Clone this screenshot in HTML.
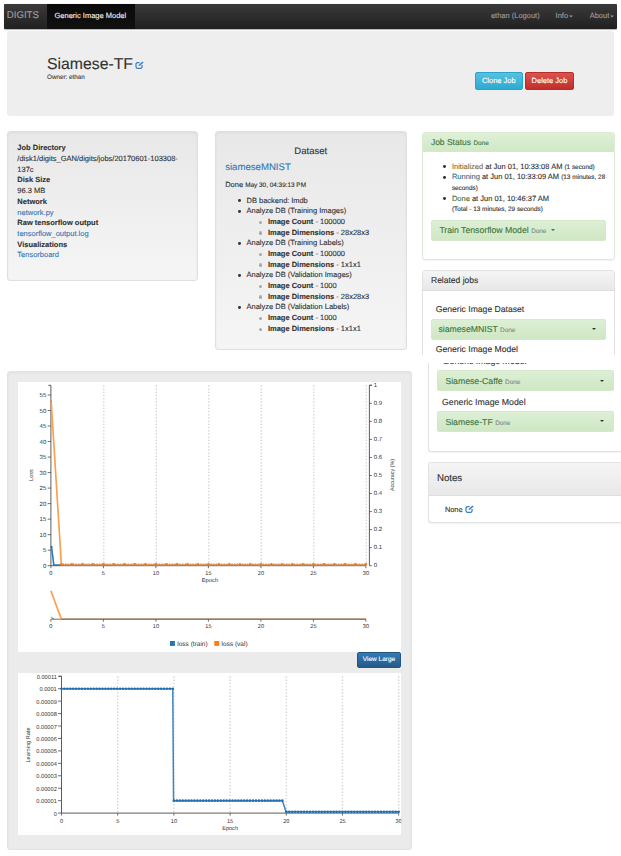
<!DOCTYPE html>
<html><head><meta charset="utf-8">
<style>
*{box-sizing:border-box;margin:0;padding:0}
html,body{width:621px;height:856px;overflow:hidden;background:#fff}
body{position:relative;text-rendering:geometricPrecision;-webkit-text-stroke:0.12px currentColor;font-family:"Liberation Sans",sans-serif;color:#333;font-size:7.5px;line-height:10.7px}
.abs{position:absolute}
a{color:#337ab7;text-decoration:none}
b{font-weight:bold}
/* navbar */
#nav{left:4px;top:4px;width:613px;height:25.0px;background:linear-gradient(#3a3a3a,#202020);border-radius:1px;box-shadow:0 0.5px 1px rgba(0,0,0,.3)}
#nav .t{position:absolute;white-space:nowrap;color:#9d9d9d;font-size:7.5px;line-height:10px}
#brand{left:2.7px;top:5.6px;font-size:9.7px !important;line-height:12px !important}
#active{position:absolute;left:42.5px;top:0;width:88px;height:25px;background:linear-gradient(#0a0a0a,#111)}
.caret{display:inline-block;width:0;height:0;border-left:1.6px solid transparent;border-right:1.6px solid transparent;border-top:1.9px solid;vertical-align:middle;margin-left:0.6px;margin-top:-1px}
/* jumbotron */
#jumbo{left:7px;top:31.2px;width:607.4px;height:84.6px;background:#eee;border-radius:3px}
/* wells */
.well{position:absolute;background:linear-gradient(#e8e8e8,#f5f5f5);border:1px solid #e0e0e0;border-radius:3px;box-shadow:inset 0 1px 3px rgba(0,0,0,.05)}
.panel{position:absolute;background:#fff;border:1px solid #e2e2e2;border-radius:3px;box-shadow:0 1px 1px rgba(0,0,0,.05)}
.ph{position:absolute;left:0;top:0;right:0;border-radius:2px 2px 0 0;background:linear-gradient(#f5f5f5,#e8e8e8);border-bottom:1px solid #ddd}
.green{position:absolute;background:linear-gradient(#ddefd5,#cfe7c4);border:1px solid #d3e9ca;border-radius:2px;color:#3c763d;font-size:8.7px;white-space:nowrap}
.green .caret{border-left:2.1px solid transparent;border-right:2.1px solid transparent;border-top:2.3px solid}
.green small{font-size:6.4px;line-height:0;color:#7d8f7d}
.btn{position:absolute;border-radius:2px;color:#fff;font-size:7.5px;text-align:center;white-space:nowrap}
ul{list-style:none}
.bul{position:relative}
.bul:before{content:"";position:absolute;left:-8.5px;top:3.7px;width:2.9px;height:2.9px;background:#333;border-radius:50%}
.sub{position:relative}
.sub:before{content:"";position:absolute;left:-8.6px;top:3.7px;width:3.2px;height:3.2px;background:#a8a8a8;border-radius:50%}
.nw{white-space:nowrap}
</style></head><body>

<!-- NAVBAR -->
<div id="nav" class="abs">
  <div id="active"></div>
  <div id="brand" class="t">DIGITS</div>
  <div class="t" style="left:50.5px;top:7.0px;color:#eee">Generic Image Model</div>
  <div class="t" style="left:486.9px;top:7.1px">ethan (Logout)</div>
  <div class="t" style="left:551.6px;top:7.1px">Info<svg style="display:inline-block;vertical-align:middle;margin-left:0.5px;margin-top:0px" width="4" height="3" viewBox="0 0 4 3"><path d="M0.2 0.4H3.8L2 2.6Z" fill="#9d9d9d"/></svg></div>
  <div class="t" style="left:585.7px;top:7.1px">About<svg style="display:inline-block;vertical-align:middle;margin-left:0.5px;margin-top:0px" width="4" height="3" viewBox="0 0 4 3"><path d="M0.2 0.4H3.8L2 2.6Z" fill="#9d9d9d"/></svg></div>
</div>

<!-- JUMBOTRON -->
<div id="jumbo" class="abs">
  <div class="abs nw" style="left:40px;top:24.8px;font-size:15.8px;line-height:18px">Siamese-TF</div>
  <svg class="abs" style="left:127.6px;top:29.5px" width="9" height="8" viewBox="0 0 9 8">
    <path d="M4.6 1.5H2.8Q1 1.5 1 3.3V5.6Q1 7.4 2.8 7.4H5.3Q7.1 7.4 7.1 5.6V4.1" fill="none" stroke="#3a80c0" stroke-width="1.25"/>
    <path d="M3.5 5.1L3.9 3.8L7.5 0.5L8.6 1.5L5 4.8Z" fill="#3a80c0"/>
  </svg>
  <div class="abs nw" style="left:40px;top:42.5px;font-size:6.3px;line-height:8px;color:#444">Owner: ethan</div>
  <div class="btn" style="left:468px;top:40.6px;width:47.6px;height:18.4px;line-height:16.6px;background:linear-gradient(#5bc0de,#2aabd2);border:1px solid #28a4c9">Clone Job</div>
  <div class="btn" style="left:517.9px;top:40.6px;width:49.3px;height:18.4px;line-height:16.6px;background:linear-gradient(#d9534f,#c12e2a);border:1px solid #b92c28">Delete Job</div>
</div>

<!-- WELL 1 -->
<div class="well" style="left:7px;top:131.3px;width:190.8px;height:150.2px">
  <div class="abs" style="left:9.3px;top:11.1px;width:178px;line-height:10.68px">
    <b>Job Directory</b><br>
    <span class="nw">/disk1/digits_GAN/digits/jobs/20170601-103308-</span><br>
    137c<br>
    <b>Disk Size</b><br>
    96.3 MB<br>
    <b>Network</b><br>
    <a>network.py</a><br>
    <b>Raw tensorflow output</b><br>
    <a>tensorflow_output.log</a><br>
    <b>Visualizations</b><br>
    <a>Tensorboard</a>
  </div>
</div>

<!-- WELL 2 -->
<div class="well" style="left:214.6px;top:131.3px;width:192.3px;height:218.3px">
  <div class="abs nw" style="left:0;right:0;top:14.1px;text-align:center;font-size:9.5px;line-height:12px">Dataset</div>
  <div class="abs nw" style="left:9.6px;top:30.1px;font-size:9.6px;line-height:12px"><a>siameseMNIST</a></div>
  <div class="abs nw" style="left:9.6px;top:47.8px;line-height:10.7px">Done <span style="font-size:6.4px;line-height:0">May 30, 04:39:13 PM</span></div>
  <ul class="abs nw" style="left:30.9px;top:63.3px;line-height:10.68px">
    <li class="bul">DB backend: lmdb</li>
    <li class="bul">Analyze DB (Training Images)</li>
    <li class="sub" style="margin-left:21.4px"><b>Image Count</b> - 100000</li>
    <li class="sub" style="margin-left:21.4px"><b>Image Dimensions</b> - 28x28x3</li>
    <li class="bul">Analyze DB (Training Labels)</li>
    <li class="sub" style="margin-left:21.4px"><b>Image Count</b> - 100000</li>
    <li class="sub" style="margin-left:21.4px"><b>Image Dimensions</b> - 1x1x1</li>
    <li class="bul">Analyze DB (Validation Images)</li>
    <li class="sub" style="margin-left:21.4px"><b>Image Count</b> - 1000</li>
    <li class="sub" style="margin-left:21.4px"><b>Image Dimensions</b> - 28x28x3</li>
    <li class="bul">Analyze DB (Validation Labels)</li>
    <li class="sub" style="margin-left:21.4px"><b>Image Count</b> - 1000</li>
    <li class="sub" style="margin-left:21.4px"><b>Image Dimensions</b> - 1x1x1</li>
  </ul>
</div>

<!-- JOB STATUS PANEL -->
<div class="panel" style="left:422.2px;top:131.6px;width:192.6px;height:128.1px;border-color:#dcecd2">
  <div class="ph" style="height:19.6px;background:linear-gradient(#dff0d8,#d0e9c6);border-bottom-color:#d6e9c6"></div>
  <div class="abs nw" style="left:7.7px;top:4.8px;font-size:8.5px;line-height:10px;color:#3c763d">Job Status <span style="font-size:6.4px;line-height:0">Done</span></div>
  <ul class="abs nw" style="left:28.7px;top:29.0px;line-height:10.7px;font-size:7.5px">
    <li class="bul"><span style="color:#8a6d3b">Initialized</span> at Jun 01, 10:33:08 AM <span style="font-size:6.4px;line-height:0">(1 second)</span></li>
    <li class="bul"><span style="color:#31708f">Running</span> at Jun 01, 10:33:09 AM <span style="font-size:6.4px;line-height:0">(13 minutes, 28<br>seconds)</span></li>
    <li class="bul"><span style="color:#3c763d">Done</span> at Jun 01, 10:46:37 AM<br><span style="font-size:6.4px;line-height:0">(Total - 13 minutes, 29 seconds)</span></li>
  </ul>
  <div class="green" style="left:8px;top:87.6px;width:175.2px;height:20.5px;line-height:19px;padding-left:7.2px">Train Tensorflow Model <small>Done</small><span class="caret" style="color:#3c763d;margin-left:4.2px"></span></div>
</div>

<!-- RELATED JOBS piece 1 -->
<div class="abs" style="left:420px;top:265px;width:201px;height:89.6px;overflow:hidden">
  <div class="panel" style="left:2.0px;top:4.9px;width:192.6px;height:200px">
    <div class="ph" style="height:20.6px"></div>
    <div class="abs nw" style="left:8.0px;top:4.6px;font-size:8.5px;line-height:10px">Related jobs</div>
    <div class="abs nw" style="left:12.8px;top:32px;font-size:8.6px;line-height:12px">Generic Image Dataset</div>
    <div class="green" style="left:7.8px;top:47.8px;width:175px;height:20.9px;line-height:19.5px;padding-left:6.6px">siameseMNIST <small>Done</small><span class="caret" style="position:absolute;left:160px;top:9px;color:#333"></span></div>
    <div class="abs nw" style="left:12.8px;top:72.4px;font-size:8.6px;line-height:12px">Generic Image Model</div>
  </div>
</div>

<!-- OVERLAY piece 2 -->
<div class="abs" style="left:421px;top:362.5px;width:200px;height:300px;overflow:hidden">
  <div class="panel" style="left:7px;top:-60px;width:194px;height:149.5px;border-right:none">
    <div class="abs nw" style="left:13.8px;top:51.3px;font-size:8.75px;line-height:12px">Generic Image Model</div>
    <div class="green" style="left:7.8px;top:66.5px;width:177px;height:21.1px;line-height:21.2px;padding-left:7.6px">Siamese-Caffe <small>Done</small><span class="caret" style="position:absolute;left:161.6px;top:9.5px;color:#333"></span></div>
    <div class="abs nw" style="left:13px;top:92.6px;font-size:8.75px;line-height:12px">Generic Image Model</div>
    <div class="green" style="left:7.8px;top:107.4px;width:177px;height:21.3px;line-height:21.2px;padding-left:7.6px">Siamese-TF <small>Done</small><span class="caret" style="position:absolute;left:161.6px;top:9.5px;color:#333"></span></div>
  </div>
  <div class="panel" style="left:7px;top:99.7px;width:200px;height:60.5px;border-right:none">
    <div class="ph" style="height:33px"></div>
    <div class="abs nw" style="left:7.9px;top:9.8px;font-size:9.7px;line-height:12px">Notes</div>
    <div class="abs nw" style="left:15.9px;top:41.6px;font-size:7.4px;line-height:10px">None</div>
    <svg class="abs" style="left:36.2px;top:41.4px" width="9" height="8" viewBox="0 0 9 8">
    <path d="M4.6 1.5H2.8Q1 1.5 1 3.3V5.6Q1 7.4 2.8 7.4H5.3Q7.1 7.4 7.1 5.6V4.1" fill="none" stroke="#3a80c0" stroke-width="1.25"/>
    <path d="M3.5 5.1L3.9 3.8L7.5 0.5L8.6 1.5L5 4.8Z" fill="#3a80c0"/>
    </svg>
  </div>
</div>

<!-- GRAPH WELL -->
<div class="well" style="left:7.2px;top:371.3px;width:404.7px;height:478.7px;background:#ebebeb;border-color:#e3e3e3"></div>
<div class="abs" style="left:17.8px;top:382.2px;width:383.5px;height:269.8px;background:#fff"></div>
<div class="abs" style="left:17.8px;top:672.9px;width:383.6px;height:162.2px;background:#fff"></div>
<div class="btn" style="left:356.8px;top:651.8px;width:44.4px;height:16.3px;line-height:14.8px;font-size:6.5px;background:linear-gradient(#337ab7,#265a88);border:1px solid #245580">View Large</div>

<svg id="charts" class="abs" style="left:0;top:0;text-rendering:geometricPrecision" width="621" height="856" viewBox="0 0 621 856">
<line x1="103.80" y1="385.3" x2="103.80" y2="565.7" stroke="#d2d2d2" stroke-width="1.3" stroke-dasharray="1.4,1.8"/>
<line x1="156.30" y1="385.3" x2="156.30" y2="565.7" stroke="#d2d2d2" stroke-width="1.3" stroke-dasharray="1.4,1.8"/>
<line x1="208.80" y1="385.3" x2="208.80" y2="565.7" stroke="#d2d2d2" stroke-width="1.3" stroke-dasharray="1.4,1.8"/>
<line x1="261.30" y1="385.3" x2="261.30" y2="565.7" stroke="#d2d2d2" stroke-width="1.3" stroke-dasharray="1.4,1.8"/>
<line x1="313.80" y1="385.3" x2="313.80" y2="565.7" stroke="#d2d2d2" stroke-width="1.3" stroke-dasharray="1.4,1.8"/>
<line x1="366.30" y1="385.3" x2="366.30" y2="565.7" stroke="#d2d2d2" stroke-width="1.3" stroke-dasharray="1.4,1.8"/>
<path d="M48.4,385.3H50.9V565.7" fill="none" stroke="#4a4a4a" stroke-width="0.9"/>
<line x1="47.699999999999996" y1="565.70" x2="50.9" y2="565.70" stroke="#4a4a4a" stroke-width="0.8"/>
<text x="46.3" y="567.90" text-anchor="end" font-size="6" font-family="Liberation Sans" fill="#333">0</text>
<line x1="47.699999999999996" y1="550.18" x2="50.9" y2="550.18" stroke="#4a4a4a" stroke-width="0.8"/>
<text x="46.3" y="552.38" text-anchor="end" font-size="6" font-family="Liberation Sans" fill="#333">5</text>
<line x1="47.699999999999996" y1="534.66" x2="50.9" y2="534.66" stroke="#4a4a4a" stroke-width="0.8"/>
<text x="46.3" y="536.86" text-anchor="end" font-size="6" font-family="Liberation Sans" fill="#333">10</text>
<line x1="47.699999999999996" y1="519.14" x2="50.9" y2="519.14" stroke="#4a4a4a" stroke-width="0.8"/>
<text x="46.3" y="521.34" text-anchor="end" font-size="6" font-family="Liberation Sans" fill="#333">15</text>
<line x1="47.699999999999996" y1="503.62" x2="50.9" y2="503.62" stroke="#4a4a4a" stroke-width="0.8"/>
<text x="46.3" y="505.82" text-anchor="end" font-size="6" font-family="Liberation Sans" fill="#333">20</text>
<line x1="47.699999999999996" y1="488.10" x2="50.9" y2="488.10" stroke="#4a4a4a" stroke-width="0.8"/>
<text x="46.3" y="490.30" text-anchor="end" font-size="6" font-family="Liberation Sans" fill="#333">25</text>
<line x1="47.699999999999996" y1="472.58" x2="50.9" y2="472.58" stroke="#4a4a4a" stroke-width="0.8"/>
<text x="46.3" y="474.78" text-anchor="end" font-size="6" font-family="Liberation Sans" fill="#333">30</text>
<line x1="47.699999999999996" y1="457.06" x2="50.9" y2="457.06" stroke="#4a4a4a" stroke-width="0.8"/>
<text x="46.3" y="459.26" text-anchor="end" font-size="6" font-family="Liberation Sans" fill="#333">35</text>
<line x1="47.699999999999996" y1="441.54" x2="50.9" y2="441.54" stroke="#4a4a4a" stroke-width="0.8"/>
<text x="46.3" y="443.74" text-anchor="end" font-size="6" font-family="Liberation Sans" fill="#333">40</text>
<line x1="47.699999999999996" y1="426.02" x2="50.9" y2="426.02" stroke="#4a4a4a" stroke-width="0.8"/>
<text x="46.3" y="428.22" text-anchor="end" font-size="6" font-family="Liberation Sans" fill="#333">45</text>
<line x1="47.699999999999996" y1="410.50" x2="50.9" y2="410.50" stroke="#4a4a4a" stroke-width="0.8"/>
<text x="46.3" y="412.70" text-anchor="end" font-size="6" font-family="Liberation Sans" fill="#333">50</text>
<line x1="47.699999999999996" y1="394.98" x2="50.9" y2="394.98" stroke="#4a4a4a" stroke-width="0.8"/>
<text x="46.3" y="397.18" text-anchor="end" font-size="6" font-family="Liberation Sans" fill="#333">55</text>
<path d="M371.9,385.3H369.4V565.7" fill="none" stroke="#4a4a4a" stroke-width="0.9"/>
<line x1="369.4" y1="565.70" x2="371.9" y2="565.70" stroke="#4a4a4a" stroke-width="0.8"/>
<text x="373.79999999999995" y="567.20" font-size="6" font-family="Liberation Sans" fill="#333">0</text>
<line x1="369.4" y1="547.66" x2="371.9" y2="547.66" stroke="#4a4a4a" stroke-width="0.8"/>
<text x="373.79999999999995" y="549.16" font-size="6" font-family="Liberation Sans" fill="#333">0.1</text>
<line x1="369.4" y1="529.62" x2="371.9" y2="529.62" stroke="#4a4a4a" stroke-width="0.8"/>
<text x="373.79999999999995" y="531.12" font-size="6" font-family="Liberation Sans" fill="#333">0.2</text>
<line x1="369.4" y1="511.58" x2="371.9" y2="511.58" stroke="#4a4a4a" stroke-width="0.8"/>
<text x="373.79999999999995" y="513.08" font-size="6" font-family="Liberation Sans" fill="#333">0.3</text>
<line x1="369.4" y1="493.54" x2="371.9" y2="493.54" stroke="#4a4a4a" stroke-width="0.8"/>
<text x="373.79999999999995" y="495.04" font-size="6" font-family="Liberation Sans" fill="#333">0.4</text>
<line x1="369.4" y1="475.50" x2="371.9" y2="475.50" stroke="#4a4a4a" stroke-width="0.8"/>
<text x="373.79999999999995" y="477.00" font-size="6" font-family="Liberation Sans" fill="#333">0.5</text>
<line x1="369.4" y1="457.46" x2="371.9" y2="457.46" stroke="#4a4a4a" stroke-width="0.8"/>
<text x="373.79999999999995" y="458.96" font-size="6" font-family="Liberation Sans" fill="#333">0.6</text>
<line x1="369.4" y1="439.42" x2="371.9" y2="439.42" stroke="#4a4a4a" stroke-width="0.8"/>
<text x="373.79999999999995" y="440.92" font-size="6" font-family="Liberation Sans" fill="#333">0.7</text>
<line x1="369.4" y1="421.38" x2="371.9" y2="421.38" stroke="#4a4a4a" stroke-width="0.8"/>
<text x="373.79999999999995" y="422.88" font-size="6" font-family="Liberation Sans" fill="#333">0.8</text>
<line x1="369.4" y1="403.34" x2="371.9" y2="403.34" stroke="#4a4a4a" stroke-width="0.8"/>
<text x="373.79999999999995" y="404.84" font-size="6" font-family="Liberation Sans" fill="#333">0.9</text>
<line x1="369.4" y1="385.30" x2="371.9" y2="385.30" stroke="#4a4a4a" stroke-width="0.8"/>
<text x="373.79999999999995" y="386.80" font-size="6" font-family="Liberation Sans" fill="#333">1</text>
<line x1="50.9" y1="565.7" x2="365.9" y2="565.7" stroke="#4a4a4a" stroke-width="0.9"/>
<line x1="50.90" y1="565.7" x2="50.90" y2="568.2" stroke="#4a4a4a" stroke-width="0.8"/>
<text x="50.90" y="574.9000000000001" text-anchor="middle" font-size="5.6" font-family="Liberation Sans" fill="#333">0</text>
<line x1="103.40" y1="565.7" x2="103.40" y2="568.2" stroke="#4a4a4a" stroke-width="0.8"/>
<text x="103.40" y="574.9000000000001" text-anchor="middle" font-size="5.6" font-family="Liberation Sans" fill="#333">5</text>
<line x1="155.90" y1="565.7" x2="155.90" y2="568.2" stroke="#4a4a4a" stroke-width="0.8"/>
<text x="155.90" y="574.9000000000001" text-anchor="middle" font-size="5.6" font-family="Liberation Sans" fill="#333">10</text>
<line x1="208.40" y1="565.7" x2="208.40" y2="568.2" stroke="#4a4a4a" stroke-width="0.8"/>
<text x="208.40" y="574.9000000000001" text-anchor="middle" font-size="5.6" font-family="Liberation Sans" fill="#333">15</text>
<line x1="260.90" y1="565.7" x2="260.90" y2="568.2" stroke="#4a4a4a" stroke-width="0.8"/>
<text x="260.90" y="574.9000000000001" text-anchor="middle" font-size="5.6" font-family="Liberation Sans" fill="#333">20</text>
<line x1="313.40" y1="565.7" x2="313.40" y2="568.2" stroke="#4a4a4a" stroke-width="0.8"/>
<text x="313.40" y="574.9000000000001" text-anchor="middle" font-size="5.6" font-family="Liberation Sans" fill="#333">25</text>
<line x1="365.90" y1="565.7" x2="365.90" y2="568.2" stroke="#4a4a4a" stroke-width="0.8"/>
<text x="365.90" y="574.9000000000001" text-anchor="middle" font-size="5.6" font-family="Liberation Sans" fill="#333">30</text>
<text x="209.90" y="582.2" text-anchor="middle" font-size="5.8" font-family="Liberation Sans" fill="#333">Epoch</text>
<text transform="translate(33.2,475) rotate(-90)" text-anchor="middle" font-size="5.6" font-family="Liberation Sans" fill="#333">Loss</text>
<text transform="translate(393.6,475) rotate(-90)" text-anchor="middle" font-size="5.4" font-family="Liberation Sans" fill="#333">Accuracy (%)</text>
<polyline points="51.50,546.77 53.84,565.10 63.50,565.10" fill="none" stroke="#2a7ab8" stroke-width="1.6"/>
<polyline points="51.20,401.50 61.40,565.20" fill="none" stroke="#fca050" stroke-width="1.7"/>
<line x1="61.40" y1="564.90" x2="365.90" y2="564.90" stroke="#e87a20" stroke-width="1.5"/>
<line x1="62.40" y1="563.90" x2="365.90" y2="563.90" stroke="#5a90c0" stroke-width="0.9" stroke-dasharray="1.5,1.1" opacity="0.75"/>
<circle cx="61.40" cy="564.30" r="1.3" fill="#f47d18"/>
<circle cx="71.90" cy="564.30" r="1.3" fill="#f47d18"/>
<circle cx="82.40" cy="564.30" r="1.3" fill="#f47d18"/>
<circle cx="92.90" cy="564.30" r="1.3" fill="#f47d18"/>
<circle cx="103.40" cy="564.30" r="1.3" fill="#f47d18"/>
<circle cx="113.90" cy="564.30" r="1.3" fill="#f47d18"/>
<circle cx="124.40" cy="564.30" r="1.3" fill="#f47d18"/>
<circle cx="134.90" cy="564.30" r="1.3" fill="#f47d18"/>
<circle cx="145.40" cy="564.30" r="1.3" fill="#f47d18"/>
<circle cx="155.90" cy="564.30" r="1.3" fill="#f47d18"/>
<circle cx="166.40" cy="564.30" r="1.3" fill="#f47d18"/>
<circle cx="176.90" cy="564.30" r="1.3" fill="#f47d18"/>
<circle cx="187.40" cy="564.30" r="1.3" fill="#f47d18"/>
<circle cx="197.90" cy="564.30" r="1.3" fill="#f47d18"/>
<circle cx="208.40" cy="564.30" r="1.3" fill="#f47d18"/>
<circle cx="218.90" cy="564.30" r="1.3" fill="#f47d18"/>
<circle cx="229.40" cy="564.30" r="1.3" fill="#f47d18"/>
<circle cx="239.90" cy="564.30" r="1.3" fill="#f47d18"/>
<circle cx="250.40" cy="564.30" r="1.3" fill="#f47d18"/>
<circle cx="260.90" cy="564.30" r="1.3" fill="#f47d18"/>
<circle cx="271.40" cy="564.30" r="1.3" fill="#f47d18"/>
<circle cx="281.90" cy="564.30" r="1.3" fill="#f47d18"/>
<circle cx="292.40" cy="564.30" r="1.3" fill="#f47d18"/>
<circle cx="302.90" cy="564.30" r="1.3" fill="#f47d18"/>
<circle cx="313.40" cy="564.30" r="1.3" fill="#f47d18"/>
<circle cx="323.90" cy="564.30" r="1.3" fill="#f47d18"/>
<circle cx="334.40" cy="564.30" r="1.3" fill="#f47d18"/>
<circle cx="344.90" cy="564.30" r="1.3" fill="#f47d18"/>
<circle cx="355.40" cy="564.30" r="1.3" fill="#f47d18"/>
<circle cx="365.90" cy="564.30" r="1.3" fill="#f47d18"/>
<circle cx="51.50" cy="546.77" r="1" fill="#1f77b4"/>
<circle cx="51.20" cy="401.50" r="1" fill="#f08030"/>
<polyline points="51.40,617.4000000000001 54.05,619.2 " fill="none" stroke="#1f77b4" stroke-width="1"/>
<line x1="50.9" y1="619.2" x2="365.9" y2="619.2" stroke="#8a6a50" stroke-width="1"/>
<polyline points="50.90,590.9 61.40,619.2" fill="none" stroke="#fca050" stroke-width="1.7"/>
<line x1="61.40" y1="619.2" x2="365.9" y2="619.2" stroke="#9a7a58" stroke-width="1.5"/>
<line x1="50.90" y1="619.2" x2="50.90" y2="621.7" stroke="#4a4a4a" stroke-width="0.8"/>
<text x="50.90" y="628.4000000000001" text-anchor="middle" font-size="5.6" font-family="Liberation Sans" fill="#333">0</text>
<line x1="103.40" y1="619.2" x2="103.40" y2="621.7" stroke="#4a4a4a" stroke-width="0.8"/>
<text x="103.40" y="628.4000000000001" text-anchor="middle" font-size="5.6" font-family="Liberation Sans" fill="#333">5</text>
<line x1="155.90" y1="619.2" x2="155.90" y2="621.7" stroke="#4a4a4a" stroke-width="0.8"/>
<text x="155.90" y="628.4000000000001" text-anchor="middle" font-size="5.6" font-family="Liberation Sans" fill="#333">10</text>
<line x1="208.40" y1="619.2" x2="208.40" y2="621.7" stroke="#4a4a4a" stroke-width="0.8"/>
<text x="208.40" y="628.4000000000001" text-anchor="middle" font-size="5.6" font-family="Liberation Sans" fill="#333">15</text>
<line x1="260.90" y1="619.2" x2="260.90" y2="621.7" stroke="#4a4a4a" stroke-width="0.8"/>
<text x="260.90" y="628.4000000000001" text-anchor="middle" font-size="5.6" font-family="Liberation Sans" fill="#333">20</text>
<line x1="313.40" y1="619.2" x2="313.40" y2="621.7" stroke="#4a4a4a" stroke-width="0.8"/>
<text x="313.40" y="628.4000000000001" text-anchor="middle" font-size="5.6" font-family="Liberation Sans" fill="#333">25</text>
<line x1="365.90" y1="619.2" x2="365.90" y2="621.7" stroke="#4a4a4a" stroke-width="0.8"/>
<text x="365.90" y="628.4000000000001" text-anchor="middle" font-size="5.6" font-family="Liberation Sans" fill="#333">30</text>
<rect x="170" y="641" width="4.9" height="4.9" fill="#1f77b4"/>
<text x="177.3" y="645.9" font-size="6.5" font-family="Liberation Sans" fill="#333">loss (train)</text>
<rect x="214.3" y="641" width="4.9" height="4.9" fill="#ff7f0e"/>
<text x="221.6" y="645.9" font-size="6.5" font-family="Liberation Sans" fill="#333">loss (val)</text>
<defs><clipPath id="lrc"><rect x="17.8" y="672.9" width="383.6" height="162.2"/></clipPath></defs><g clip-path="url(#lrc)">
<line x1="117.70" y1="676.3" x2="117.70" y2="813.1" stroke="#d2d2d2" stroke-width="1.3" stroke-dasharray="1.4,1.8"/>
<line x1="173.90" y1="676.3" x2="173.90" y2="813.1" stroke="#d2d2d2" stroke-width="1.3" stroke-dasharray="1.4,1.8"/>
<line x1="230.10" y1="676.3" x2="230.10" y2="813.1" stroke="#d2d2d2" stroke-width="1.3" stroke-dasharray="1.4,1.8"/>
<line x1="286.30" y1="676.3" x2="286.30" y2="813.1" stroke="#d2d2d2" stroke-width="1.3" stroke-dasharray="1.4,1.8"/>
<line x1="342.50" y1="676.3" x2="342.50" y2="813.1" stroke="#d2d2d2" stroke-width="1.3" stroke-dasharray="1.4,1.8"/>
<line x1="398.70" y1="676.3" x2="398.70" y2="813.1" stroke="#d2d2d2" stroke-width="1.3" stroke-dasharray="1.4,1.8"/>
<path d="M59.0,676.3H61.5V813.1" fill="none" stroke="#4a4a4a" stroke-width="0.9"/>
<line x1="58.0" y1="813.10" x2="61.5" y2="813.10" stroke="#4a4a4a" stroke-width="0.8"/>
<text x="56.8" y="815.60" text-anchor="end" font-size="5.7" font-family="Liberation Sans" fill="#333">0</text>
<line x1="58.0" y1="800.66" x2="61.5" y2="800.66" stroke="#4a4a4a" stroke-width="0.8"/>
<text x="56.8" y="803.16" text-anchor="end" font-size="5.7" font-family="Liberation Sans" fill="#333">0.00001</text>
<line x1="58.0" y1="788.22" x2="61.5" y2="788.22" stroke="#4a4a4a" stroke-width="0.8"/>
<text x="56.8" y="790.72" text-anchor="end" font-size="5.7" font-family="Liberation Sans" fill="#333">0.00002</text>
<line x1="58.0" y1="775.78" x2="61.5" y2="775.78" stroke="#4a4a4a" stroke-width="0.8"/>
<text x="56.8" y="778.28" text-anchor="end" font-size="5.7" font-family="Liberation Sans" fill="#333">0.00003</text>
<line x1="58.0" y1="763.34" x2="61.5" y2="763.34" stroke="#4a4a4a" stroke-width="0.8"/>
<text x="56.8" y="765.84" text-anchor="end" font-size="5.7" font-family="Liberation Sans" fill="#333">0.00004</text>
<line x1="58.0" y1="750.90" x2="61.5" y2="750.90" stroke="#4a4a4a" stroke-width="0.8"/>
<text x="56.8" y="753.40" text-anchor="end" font-size="5.7" font-family="Liberation Sans" fill="#333">0.00005</text>
<line x1="58.0" y1="738.46" x2="61.5" y2="738.46" stroke="#4a4a4a" stroke-width="0.8"/>
<text x="56.8" y="740.96" text-anchor="end" font-size="5.7" font-family="Liberation Sans" fill="#333">0.00006</text>
<line x1="58.0" y1="726.02" x2="61.5" y2="726.02" stroke="#4a4a4a" stroke-width="0.8"/>
<text x="56.8" y="728.52" text-anchor="end" font-size="5.7" font-family="Liberation Sans" fill="#333">0.00007</text>
<line x1="58.0" y1="713.58" x2="61.5" y2="713.58" stroke="#4a4a4a" stroke-width="0.8"/>
<text x="56.8" y="716.08" text-anchor="end" font-size="5.7" font-family="Liberation Sans" fill="#333">0.00008</text>
<line x1="58.0" y1="701.14" x2="61.5" y2="701.14" stroke="#4a4a4a" stroke-width="0.8"/>
<text x="56.8" y="703.64" text-anchor="end" font-size="5.7" font-family="Liberation Sans" fill="#333">0.00009</text>
<line x1="58.0" y1="688.70" x2="61.5" y2="688.70" stroke="#4a4a4a" stroke-width="0.8"/>
<text x="56.8" y="691.20" text-anchor="end" font-size="5.7" font-family="Liberation Sans" fill="#333">0.0001</text>
<line x1="58.0" y1="676.26" x2="61.5" y2="676.26" stroke="#4a4a4a" stroke-width="0.8"/>
<text x="56.8" y="678.76" text-anchor="end" font-size="5.7" font-family="Liberation Sans" fill="#333">0.00011</text>
<line x1="61.5" y1="813.1" x2="398.7" y2="813.1" stroke="#4a4a4a" stroke-width="0.9"/>
<line x1="61.50" y1="813.1" x2="61.50" y2="815.6" stroke="#4a4a4a" stroke-width="0.8"/>
<text x="61.50" y="822.6" text-anchor="middle" font-size="5.6" font-family="Liberation Sans" fill="#333">0</text>
<line x1="117.70" y1="813.1" x2="117.70" y2="815.6" stroke="#4a4a4a" stroke-width="0.8"/>
<text x="117.70" y="822.6" text-anchor="middle" font-size="5.6" font-family="Liberation Sans" fill="#333">5</text>
<line x1="173.90" y1="813.1" x2="173.90" y2="815.6" stroke="#4a4a4a" stroke-width="0.8"/>
<text x="173.90" y="822.6" text-anchor="middle" font-size="5.6" font-family="Liberation Sans" fill="#333">10</text>
<line x1="230.10" y1="813.1" x2="230.10" y2="815.6" stroke="#4a4a4a" stroke-width="0.8"/>
<text x="230.10" y="822.6" text-anchor="middle" font-size="5.6" font-family="Liberation Sans" fill="#333">15</text>
<line x1="286.30" y1="813.1" x2="286.30" y2="815.6" stroke="#4a4a4a" stroke-width="0.8"/>
<text x="286.30" y="822.6" text-anchor="middle" font-size="5.6" font-family="Liberation Sans" fill="#333">20</text>
<line x1="342.50" y1="813.1" x2="342.50" y2="815.6" stroke="#4a4a4a" stroke-width="0.8"/>
<text x="342.50" y="822.6" text-anchor="middle" font-size="5.6" font-family="Liberation Sans" fill="#333">25</text>
<line x1="398.70" y1="813.1" x2="398.70" y2="815.6" stroke="#4a4a4a" stroke-width="0.8"/>
<text x="398.70" y="822.6" text-anchor="middle" font-size="5.6" font-family="Liberation Sans" fill="#333">30</text>
<text x="230.10" y="830.1" text-anchor="middle" font-size="5.6" font-family="Liberation Sans" fill="#333">Epoch</text>
<text transform="translate(30.4,745) rotate(-90)" text-anchor="middle" font-size="5.6" font-family="Liberation Sans" fill="#333">Learning Rate</text>
<polyline points="61.50,688.70 172.78,688.70 173.56,800.66 282.37,800.66 286.08,811.86 398.70,811.86" fill="none" stroke="#3a84c0" stroke-width="1.5"/>
<circle cx="61.50" cy="688.70" r="1.3" fill="#2470b0"/>
<circle cx="64.43" cy="688.70" r="1.3" fill="#2470b0"/>
<circle cx="67.36" cy="688.70" r="1.3" fill="#2470b0"/>
<circle cx="70.28" cy="688.70" r="1.3" fill="#2470b0"/>
<circle cx="73.21" cy="688.70" r="1.3" fill="#2470b0"/>
<circle cx="76.14" cy="688.70" r="1.3" fill="#2470b0"/>
<circle cx="79.07" cy="688.70" r="1.3" fill="#2470b0"/>
<circle cx="82.00" cy="688.70" r="1.3" fill="#2470b0"/>
<circle cx="84.93" cy="688.70" r="1.3" fill="#2470b0"/>
<circle cx="87.85" cy="688.70" r="1.3" fill="#2470b0"/>
<circle cx="90.78" cy="688.70" r="1.3" fill="#2470b0"/>
<circle cx="93.71" cy="688.70" r="1.3" fill="#2470b0"/>
<circle cx="96.64" cy="688.70" r="1.3" fill="#2470b0"/>
<circle cx="99.57" cy="688.70" r="1.3" fill="#2470b0"/>
<circle cx="102.50" cy="688.70" r="1.3" fill="#2470b0"/>
<circle cx="105.42" cy="688.70" r="1.3" fill="#2470b0"/>
<circle cx="108.35" cy="688.70" r="1.3" fill="#2470b0"/>
<circle cx="111.28" cy="688.70" r="1.3" fill="#2470b0"/>
<circle cx="114.21" cy="688.70" r="1.3" fill="#2470b0"/>
<circle cx="117.14" cy="688.70" r="1.3" fill="#2470b0"/>
<circle cx="120.07" cy="688.70" r="1.3" fill="#2470b0"/>
<circle cx="122.99" cy="688.70" r="1.3" fill="#2470b0"/>
<circle cx="125.92" cy="688.70" r="1.3" fill="#2470b0"/>
<circle cx="128.85" cy="688.70" r="1.3" fill="#2470b0"/>
<circle cx="131.78" cy="688.70" r="1.3" fill="#2470b0"/>
<circle cx="134.71" cy="688.70" r="1.3" fill="#2470b0"/>
<circle cx="137.64" cy="688.70" r="1.3" fill="#2470b0"/>
<circle cx="140.56" cy="688.70" r="1.3" fill="#2470b0"/>
<circle cx="143.49" cy="688.70" r="1.3" fill="#2470b0"/>
<circle cx="146.42" cy="688.70" r="1.3" fill="#2470b0"/>
<circle cx="149.35" cy="688.70" r="1.3" fill="#2470b0"/>
<circle cx="152.28" cy="688.70" r="1.3" fill="#2470b0"/>
<circle cx="155.21" cy="688.70" r="1.3" fill="#2470b0"/>
<circle cx="158.13" cy="688.70" r="1.3" fill="#2470b0"/>
<circle cx="161.06" cy="688.70" r="1.3" fill="#2470b0"/>
<circle cx="163.99" cy="688.70" r="1.3" fill="#2470b0"/>
<circle cx="166.92" cy="688.70" r="1.3" fill="#2470b0"/>
<circle cx="169.85" cy="688.70" r="1.3" fill="#2470b0"/>
<circle cx="172.78" cy="688.70" r="1.3" fill="#2470b0"/>
<circle cx="173.90" cy="800.66" r="1.3" fill="#2470b0"/>
<circle cx="176.83" cy="800.66" r="1.3" fill="#2470b0"/>
<circle cx="179.76" cy="800.66" r="1.3" fill="#2470b0"/>
<circle cx="182.69" cy="800.66" r="1.3" fill="#2470b0"/>
<circle cx="185.63" cy="800.66" r="1.3" fill="#2470b0"/>
<circle cx="188.56" cy="800.66" r="1.3" fill="#2470b0"/>
<circle cx="191.49" cy="800.66" r="1.3" fill="#2470b0"/>
<circle cx="194.42" cy="800.66" r="1.3" fill="#2470b0"/>
<circle cx="197.35" cy="800.66" r="1.3" fill="#2470b0"/>
<circle cx="200.28" cy="800.66" r="1.3" fill="#2470b0"/>
<circle cx="203.22" cy="800.66" r="1.3" fill="#2470b0"/>
<circle cx="206.15" cy="800.66" r="1.3" fill="#2470b0"/>
<circle cx="209.08" cy="800.66" r="1.3" fill="#2470b0"/>
<circle cx="212.01" cy="800.66" r="1.3" fill="#2470b0"/>
<circle cx="214.94" cy="800.66" r="1.3" fill="#2470b0"/>
<circle cx="217.87" cy="800.66" r="1.3" fill="#2470b0"/>
<circle cx="220.80" cy="800.66" r="1.3" fill="#2470b0"/>
<circle cx="223.74" cy="800.66" r="1.3" fill="#2470b0"/>
<circle cx="226.67" cy="800.66" r="1.3" fill="#2470b0"/>
<circle cx="229.60" cy="800.66" r="1.3" fill="#2470b0"/>
<circle cx="232.53" cy="800.66" r="1.3" fill="#2470b0"/>
<circle cx="235.46" cy="800.66" r="1.3" fill="#2470b0"/>
<circle cx="238.39" cy="800.66" r="1.3" fill="#2470b0"/>
<circle cx="241.32" cy="800.66" r="1.3" fill="#2470b0"/>
<circle cx="244.26" cy="800.66" r="1.3" fill="#2470b0"/>
<circle cx="247.19" cy="800.66" r="1.3" fill="#2470b0"/>
<circle cx="250.12" cy="800.66" r="1.3" fill="#2470b0"/>
<circle cx="253.05" cy="800.66" r="1.3" fill="#2470b0"/>
<circle cx="255.98" cy="800.66" r="1.3" fill="#2470b0"/>
<circle cx="258.91" cy="800.66" r="1.3" fill="#2470b0"/>
<circle cx="261.85" cy="800.66" r="1.3" fill="#2470b0"/>
<circle cx="264.78" cy="800.66" r="1.3" fill="#2470b0"/>
<circle cx="267.71" cy="800.66" r="1.3" fill="#2470b0"/>
<circle cx="270.64" cy="800.66" r="1.3" fill="#2470b0"/>
<circle cx="273.57" cy="800.66" r="1.3" fill="#2470b0"/>
<circle cx="276.50" cy="800.66" r="1.3" fill="#2470b0"/>
<circle cx="279.43" cy="800.66" r="1.3" fill="#2470b0"/>
<circle cx="282.37" cy="800.66" r="1.3" fill="#2470b0"/>
<circle cx="286.30" cy="811.86" r="1.3" fill="#2470b0"/>
<circle cx="289.26" cy="811.86" r="1.3" fill="#2470b0"/>
<circle cx="292.22" cy="811.86" r="1.3" fill="#2470b0"/>
<circle cx="295.17" cy="811.86" r="1.3" fill="#2470b0"/>
<circle cx="298.13" cy="811.86" r="1.3" fill="#2470b0"/>
<circle cx="301.09" cy="811.86" r="1.3" fill="#2470b0"/>
<circle cx="304.05" cy="811.86" r="1.3" fill="#2470b0"/>
<circle cx="307.01" cy="811.86" r="1.3" fill="#2470b0"/>
<circle cx="309.96" cy="811.86" r="1.3" fill="#2470b0"/>
<circle cx="312.92" cy="811.86" r="1.3" fill="#2470b0"/>
<circle cx="315.88" cy="811.86" r="1.3" fill="#2470b0"/>
<circle cx="318.84" cy="811.86" r="1.3" fill="#2470b0"/>
<circle cx="321.79" cy="811.86" r="1.3" fill="#2470b0"/>
<circle cx="324.75" cy="811.86" r="1.3" fill="#2470b0"/>
<circle cx="327.71" cy="811.86" r="1.3" fill="#2470b0"/>
<circle cx="330.67" cy="811.86" r="1.3" fill="#2470b0"/>
<circle cx="333.63" cy="811.86" r="1.3" fill="#2470b0"/>
<circle cx="336.58" cy="811.86" r="1.3" fill="#2470b0"/>
<circle cx="339.54" cy="811.86" r="1.3" fill="#2470b0"/>
<circle cx="342.50" cy="811.86" r="1.3" fill="#2470b0"/>
<circle cx="345.46" cy="811.86" r="1.3" fill="#2470b0"/>
<circle cx="348.42" cy="811.86" r="1.3" fill="#2470b0"/>
<circle cx="351.37" cy="811.86" r="1.3" fill="#2470b0"/>
<circle cx="354.33" cy="811.86" r="1.3" fill="#2470b0"/>
<circle cx="357.29" cy="811.86" r="1.3" fill="#2470b0"/>
<circle cx="360.25" cy="811.86" r="1.3" fill="#2470b0"/>
<circle cx="363.21" cy="811.86" r="1.3" fill="#2470b0"/>
<circle cx="366.16" cy="811.86" r="1.3" fill="#2470b0"/>
<circle cx="369.12" cy="811.86" r="1.3" fill="#2470b0"/>
<circle cx="372.08" cy="811.86" r="1.3" fill="#2470b0"/>
<circle cx="375.04" cy="811.86" r="1.3" fill="#2470b0"/>
<circle cx="377.99" cy="811.86" r="1.3" fill="#2470b0"/>
<circle cx="380.95" cy="811.86" r="1.3" fill="#2470b0"/>
<circle cx="383.91" cy="811.86" r="1.3" fill="#2470b0"/>
<circle cx="386.87" cy="811.86" r="1.3" fill="#2470b0"/>
<circle cx="389.83" cy="811.86" r="1.3" fill="#2470b0"/>
<circle cx="392.78" cy="811.86" r="1.3" fill="#2470b0"/>
<circle cx="395.74" cy="811.86" r="1.3" fill="#2470b0"/>
<circle cx="398.70" cy="811.86" r="1.3" fill="#2470b0"/>
</g>
</svg>

</body></html>
